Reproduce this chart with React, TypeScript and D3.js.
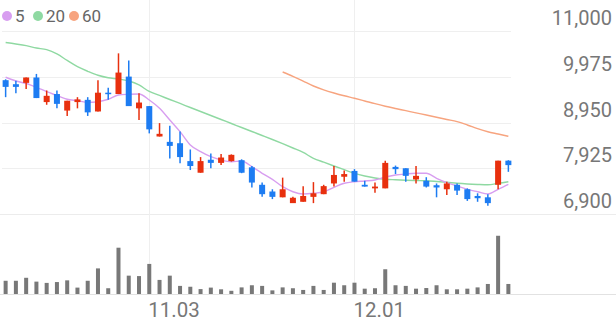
import React from 'react';
import * as d3 from 'd3';

const dates = [
  '10.16','10.17','10.18','10.19','10.20','10.23','10.24','10.25','10.26','10.27',
  '10.30','10.31','11.01','11.02','11.03','11.06','11.07','11.08','11.09','11.10',
  '11.13','11.14','11.15','11.16','11.17','11.20','11.21','11.22','11.23','11.24',
  '11.27','11.28','11.29','11.30','12.01','12.04','12.05','12.06','12.07','12.08',
  '12.11','12.12','12.13','12.14','12.15','12.18','12.19','12.20','12.21','12.22'
];

const openP = [
  9900, 9810, 9840, 9960, 9410, 9590, 9220, 9410, 9460, 9200,
  9620, 9590, 9980, 9270, 9320, 8640, 8520, 8490, 8090, 7830,
  8120, 8050, 8090, 8110, 7950, 7560, 7410, 7280, 7150, 7180,
  7290, 7350, 7590, 7740, 7870, 7560, 7480, 7480, 7960, 7930,
  7680, 7650, 7550, 7460, 7560, 7460, 7310, 7280, 7560, 8100
];
const highP = [
  9920, 9890, 9960, 10040, 9670, 9670, 9440, 9520, 9520, 9900,
  9730, 10500, 10340, 9610, 9320, 8940, 8880, 8750, 8350, 8180,
  8260, 8250, 8240, 8130, 7980, 7610, 7460, 7720, 7290, 7530,
  7620, 7560, 7980, 7880, 7910, 7650, 7610, 8100, 7990, 7930,
  7980, 7730, 7590, 7630, 7590, 7480, 7370, 7350, 8100, 8110
];
const lowP = [
  9520, 9610, 9700, 9500, 9350, 9270, 9100, 9270, 9100, 9200,
  9460, 9590, 9320, 9010, 8710, 8640, 8150, 8040, 7890, 7830,
  7930, 8000, 8080, 7820, 7500, 7290, 7240, 7280, 7150, 7180,
  7150, 7350, 7520, 7630, 7630, 7520, 7380, 7480, 7800, 7630,
  7590, 7500, 7280, 7330, 7330, 7200, 7180, 7090, 7460, 7850
];
const closeP = [
  9750, 9750, 9960, 9500, 9550, 9370, 9440, 9470, 9180, 9620,
  9590, 10070, 9320, 9400, 8800, 8700, 8430, 8180, 7980, 8090,
  8050, 8170, 8230, 7830, 7610, 7350, 7290, 7460, 7270, 7310,
  7370, 7530, 7780, 7800, 7630, 7520, 7520, 8050, 7910, 7760,
  7760, 7520, 7500, 7590, 7430, 7240, 7260, 7150, 8100, 8000
];
const volume = [
  62, 62, 76, 58, 52, 56, 64, 30, 62, 120,
  27, 217, 86, 84, 141, 66, 86, 38, 34, 23,
  30, 22, 15, 31, 41, 38, 17, 31, 27, 19,
  38, 19, 53, 41, 53, 25, 27, 116, 41, 38,
  25, 28, 41, 22, 22, 25, 31, 47, 273, 47
];
const ma5 = [
  9965, 9882, 9826, 9741, 9643, 9558, 9473, 9441, 9405, 9419,
  9473, 9569, 9585, 9591, 9457, 9271, 9010, 8748, 8450, 8301,
  8189, 8115, 8077, 8092, 7965, 7817, 7683, 7517, 7405, 7354,
  7370, 7405, 7504, 7594, 7629, 7645, 7667, 7734, 7779, 7802,
  7817, 7817, 7705, 7607, 7533, 7459, 7405, 7354, 7459, 7571
];
const ma20 = [
  10743, 10710, 10672, 10620, 10582, 10486, 10341, 10202, 10099, 10010,
  9954, 9927, 9882, 9793, 9647, 9558, 9468, 9379, 9289, 9200,
  9110, 9021, 8931, 8842, 8752, 8663, 8573, 8479, 8383, 8283,
  8153, 8066, 7981, 7898, 7817, 7757, 7712, 7683, 7672, 7663,
  7656, 7650, 7634, 7616, 7594, 7578, 7567, 7560, 7591, 7629
];
const ma60: (number | null)[] = [
  null, null, null, null, null, null, null, null, null, null,
  null, null, null, null, null, null, null, null, null, null,
  null, null, null, null, null, null, null, 10083, 9987, 9878,
  9770, 9685, 9614, 9551, 9495, 9435, 9374, 9318, 9267, 9218,
  9168, 9121, 9070, 9021, 8972, 8898, 8815, 8746, 8696, 8645
];

const priceTicks = [6900, 7925, 8950, 9975, 11000];
const xTickLabels = ['11.03', '12.01'];
const legendLabels = ['5', '20', '60'];

const UP = '#e8300e';
const DOWN = '#1d7cf2';
const MA_COLORS = ['#d89ef0', '#8fd9a2', '#f7a47f'];
const FONT = 'Roboto, "Noto Sans", sans-serif';

export default function App() {
  const W = 616;
  const H = 321;
  const x = d3.scaleBand<string>().domain(dates).range([0.5, 513.5]);
  const cx = (i: number) => (x(dates[i]) as number) + x.bandwidth() / 2;
  const y = d3.scaleLinear().domain([6900, 11000]).range([214.3, 31]);
  const yv = d3.scaleLinear().domain([0, 300]).range([294, 230]);

  const line = d3
    .line<number | null>()
    .defined((d) => d != null)
    .x((_, i) => cx(i))
    .y((d) => y(d as number))
    .curve(d3.curveMonotoneX);

  const bodyW = 6;
  const volW = 4;
  const crisp = (v: number) => Math.round(v) + 0.5;

  return (
    <svg
      width={W}
      height={H}
      style={{ position: 'fixed', left: 0, top: 0, background: '#fff' }}
      fontFamily={FONT}
    >
      {/* horizontal grid */}
      {priceTicks.map((t, k) =>
        k === 0 ? null : (
          <line key={'g' + t} x1={2} x2={511} y1={crisp(y(t))} y2={crisp(y(t))} stroke="#efefef" strokeWidth={1} />
        )
      )}
      <line x1={0} x2={W} y1={crisp(y(priceTicks[0]))} y2={crisp(y(priceTicks[0]))} stroke="#ececec" strokeWidth={1} />
      {/* vertical grid */}
      {xTickLabels.map((lab) => {
        const i = dates.indexOf(lab);
        const xx = crisp(cx(i));
        return <line key={'v' + lab} x1={xx} x2={xx} y1={0} y2={294} stroke="#efefef" strokeWidth={1} />;
      })}
      {/* volume baseline */}
      <line x1={0} x2={W} y1={294.5} y2={294.5} stroke="#e2e2e2" strokeWidth={1} />

      {/* MA lines */}
      <path d={line(ma20) || ''} fill="none" stroke={MA_COLORS[1]} strokeWidth={1.4} />
      <path d={line(ma60) || ''} fill="none" stroke={MA_COLORS[2]} strokeWidth={1.4} />
      <path d={line(ma5) || ''} fill="none" stroke={MA_COLORS[0]} strokeWidth={1.4} />

      {/* candles */}
      {dates.map((d, i) => {
        const o = openP[i];
        const c = closeP[i];
        const up = c >= o;
        const col = up ? UP : DOWN;
        const top = y(Math.max(o, c));
        const bot = y(Math.min(o, c));
        const xc = cx(i);
        return (
          <g key={'c' + d}>
            <line x1={xc} x2={xc} y1={y(highP[i])} y2={y(lowP[i])} stroke={col} strokeWidth={1.5} />
            <rect x={xc - bodyW / 2} y={top} width={bodyW} height={Math.max(1.5, bot - top)} fill={col} />
          </g>
        );
      })}

      {/* volume bars */}
      {dates.map((d, i) => (
        <rect
          key={'vb' + d}
          x={cx(i) - volW / 2}
          y={yv(volume[i])}
          width={volW}
          height={yv(0) - yv(volume[i])}
          fill="#787878"
        />
      ))}

      {/* price axis labels */}
      {priceTicks.map((t) => (
        <text key={'t' + t} x={612} y={y(t) - 6} textAnchor="end" fontSize={20} fill="#777">
          {d3.format(',')(t)}
        </text>
      ))}

      {/* x labels */}
      {xTickLabels.map((lab) => {
        const i = dates.indexOf(lab);
        return (
          <text key={'x' + lab} x={cx(i) - 1} y={317} fontSize={20.5} fill="#777">
            {lab}
          </text>
        );
      })}

      {/* legend */}
      {legendLabels.map((lab, k) => {
        const lx = [7, 38, 74][k];
        return (
          <g key={'l' + lab}>
            <circle cx={lx} cy={16} r={5} fill={MA_COLORS[k]} />
            <text x={lx + 8} y={22} fontSize={17} fill="#666">
              {lab}
            </text>
          </g>
        );
      })}
    </svg>
  );
}
